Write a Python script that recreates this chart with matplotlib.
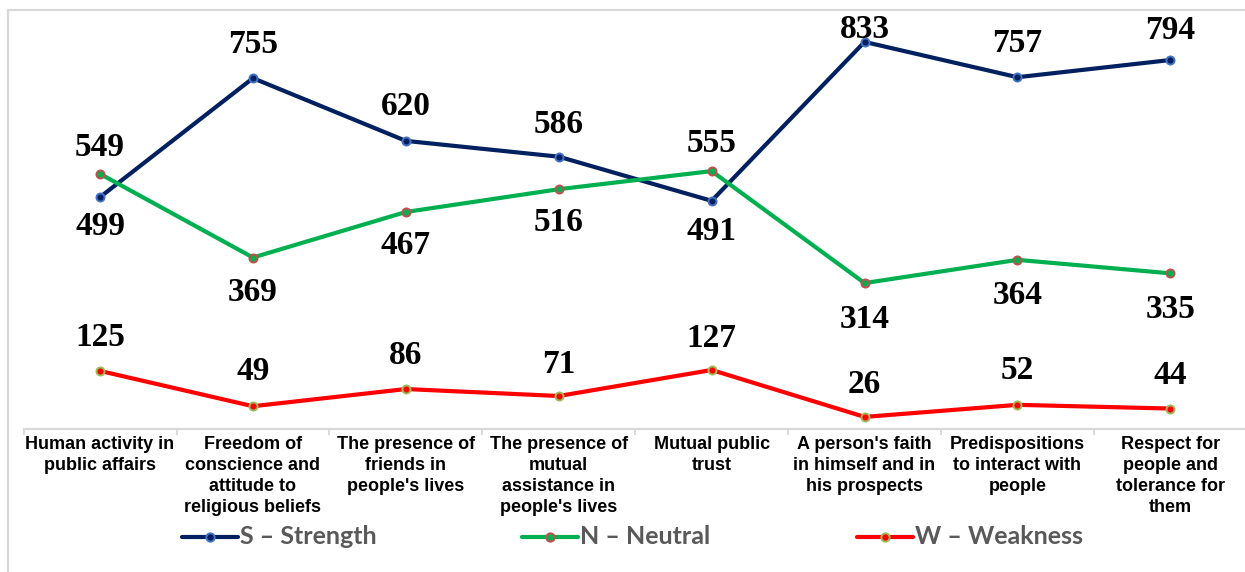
import matplotlib
matplotlib.use("Agg")
import matplotlib.pyplot as plt
from matplotlib.lines import Line2D
from matplotlib.patches import Rectangle
import numpy as np

categories = [
    "Human activity in\npublic affairs",
    "Freedom of\nconscience and\nattitude to\nreligious beliefs",
    "The presence of\nfriends in\npeople's lives",
    "The presence of\nmutual\nassistance in\npeople's lives",
    "Mutual public\ntrust",
    "A person's faith\nin himself and in\nhis prospects",
    "Predispositions\nto interact with\npeople",
    "Respect for\npeople and\ntolerance for\nthem",
]
strength = [499, 755, 620, 586, 491, 833, 757, 794]
neutral = [549, 369, 467, 516, 555, 314, 364, 335]
weakness = [125, 49, 86, 71, 127, 26, 52, 44]

# label offsets in points (positive above, negative below)
strength_off = [-21, 24, 25, 23, -22, 9, 24, 21]
neutral_off = [19, -25, -24, -24, 20, -26, -26, -26]
weakness_off = [24, 25, 24, 23, 23, 23, 25, 24]

W, H = 1245, 572
fig = plt.figure(figsize=(W / 100, H / 100), dpi=100)

# chart frame
fig.patches.append(Rectangle((8 / W, -0.05), 1.1, (H - 10) / H + 0.05,
                             transform=fig.transFigure, fill=False,
                             edgecolor="#D9D9D9", linewidth=1.6))

ax_left = 23.6 / W
ax_width = 8 * 152.9 / W
ax_bottom = (H - 429) / H
ymax = 900
ax_height = ymax * 0.4647 / H
ax = fig.add_axes([ax_left, ax_bottom, ax_width, ax_height])
ax.set_xlim(-0.5, 7.5)
ax.set_ylim(0, ymax)

x = np.arange(len(categories))
series = [
    (strength, strength_off, "#002060", "#002060", "#4472C4", "S – Strength"),
    (neutral, neutral_off, "#00B050", "#00B050", "#C0504D", "N – Neutral"),
    (weakness, weakness_off, "#FF0000", "#FF0000", "#9BBB59", "W – Weakness"),
]
for vals, offs, col, face, edge, name in series:
    ax.plot(x, vals, color=col, lw=3.0, marker="o", markersize=5.8,
            markerfacecolor=face, markeredgecolor=edge,
            markeredgewidth=1.4, solid_capstyle="round", zorder=3,
            label=name)
    for xi, v, o in zip(x, vals, offs):
        ax.annotate(str(v), (xi, v), xytext=(0, o),
                    textcoords="offset points", ha="center", va="center",
                    fontsize=24, fontweight="bold", family="Liberation Serif",
                    color="black", zorder=4, annotation_clip=False)

for s in ["top", "left", "right"]:
    ax.spines[s].set_visible(False)
ax.spines["bottom"].set_color("#D9D9D9")
ax.spines["bottom"].set_linewidth(1.6)
ax.set_yticks([])
ax.set_xticks(x)
ax.set_xticklabels(categories, fontsize=13, fontweight="bold",
                   family="Liberation Sans", linespacing=1.32)
ax.tick_params(axis="x", which="major", length=0, pad=5)
ax.set_xticks(np.arange(-0.5, 8.0, 1.0), minor=True)
ax.tick_params(axis="x", which="minor", length=4, width=1.4,
               color="#D9D9D9", direction="out")
ax.set_facecolor("none")

# legend (manual, figure pixel coordinates)
leg_y = 1 - 537 / H
starts = [182, 522, 857]
for (vals, offs, col, face, edge, name), sx in zip(series, starts):
    fig.add_artist(Line2D([sx / W, (sx + 56) / W], [leg_y, leg_y],
                          transform=fig.transFigure, color=col, lw=3.0,
                          solid_capstyle="round"))
    fig.add_artist(Line2D([(sx + 28) / W], [leg_y], transform=fig.transFigure,
                          marker="o", markersize=6, markerfacecolor=face,
                          markeredgecolor=edge, markeredgewidth=1.4,
                          linestyle="none"))
    fig.text((sx + 58) / W, leg_y, name, fontsize=18, fontweight="bold",
             family="Lato", color="#595959", ha="left", va="center")

fig.savefig("out.png", dpi=100)
